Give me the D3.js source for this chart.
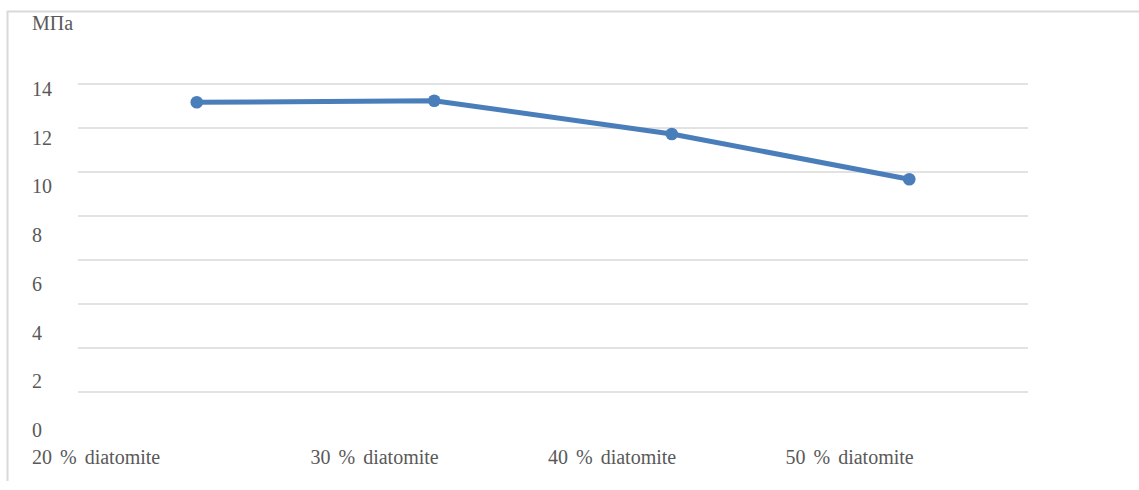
<!DOCTYPE html>
<html>
<head>
<meta charset="utf-8">
<script src="https://cdn.jsdelivr.net/npm/d3@7"></script>
<style>
  html, body { margin: 0; padding: 0; background: #ffffff; }
  svg { display: block; }
</style>
</head>
<body>
<svg id="chart" width="1139" height="490"></svg>
<script>
// Compressive strength by diatomite content
const categories = ["20 % diatomite", "30 % diatomite", "40 % diatomite", "50 % diatomite"];
const strength = [13.17, 13.24, 11.73, 9.67];
const yTicks = [0, 2, 4, 6, 8, 10, 12, 14];
const unitLabel = "МПа";

const W = 1139, H = 490;
const TEXT_COLOR = "#595959";
const svg = d3.select("#chart");

// serif face and colour for every label
function serifText(sel) {
  return sel.style("font-family", "'Liberation Serif'")
    .attr("font-size", 20)
    .style("fill", TEXT_COLOR);
}

// outer frame (left and top edges visible)
svg.append("line").attr("x1", 7.5).attr("x2", 7.5).attr("y1", 11).attr("y2", 481)
  .attr("stroke", "#d9d9d9").attr("stroke-width", 2);
svg.append("line").attr("x1", 7).attr("x2", W).attr("y1", 11.5).attr("y2", 11.5)
  .attr("stroke", "#d9d9d9").attr("stroke-width", 2);

const plot = { left: 78, right: 1028, top: 84, bottom: 392 };

const x = d3.scaleBand().domain(categories).range([plot.left, plot.right]);
const y = d3.scaleLinear().domain([0, 14]).range([plot.bottom, plot.top]);
// tick text runs on its own slightly looser spacing
const yText = d3.scaleLinear().domain([0, 14]).range([437, 96]);

// horizontal gridlines
svg.append("g").selectAll("line")
  .data(yTicks)
  .join("line")
  .attr("x1", plot.left).attr("x2", plot.right)
  .attr("y1", d => y(d)).attr("y2", d => y(d))
  .attr("stroke", "#d9d9d9").attr("stroke-width", 1.5);

// unit label
svg.append("text").attr("x", 32).attr("y", 30).call(serifText).text(unitLabel);

// y tick labels
svg.append("g").selectAll("text")
  .data(yTicks)
  .join("text")
  .attr("x", 32)
  .attr("y", d => yText(d))
  .call(serifText)
  .text(d => d);

// category labels
svg.append("g").selectAll("text")
  .data(categories)
  .join("text")
  .attr("x", (d, i) => i === 0 ? 32 : x(d) - 5)
  .attr("y", 464)
  .call(serifText)
  .style("word-spacing", "3px")
  .text(d => d);

// series line
const line = d3.line()
  .x((d, i) => x(categories[i]) + x.bandwidth() / 2)
  .y(d => y(d));

svg.append("path")
  .datum(strength)
  .attr("d", line)
  .attr("fill", "none")
  .attr("stroke", "#4a7ebb")
  .attr("stroke-width", 5)
  .attr("stroke-linejoin", "round");

svg.append("g").selectAll("circle")
  .data(strength)
  .join("circle")
  .attr("cx", (d, i) => x(categories[i]) + x.bandwidth() / 2)
  .attr("cy", d => y(d))
  .attr("r", 6.3)
  .attr("fill", "#4a7ebb");
</script>
</body>
</html>
